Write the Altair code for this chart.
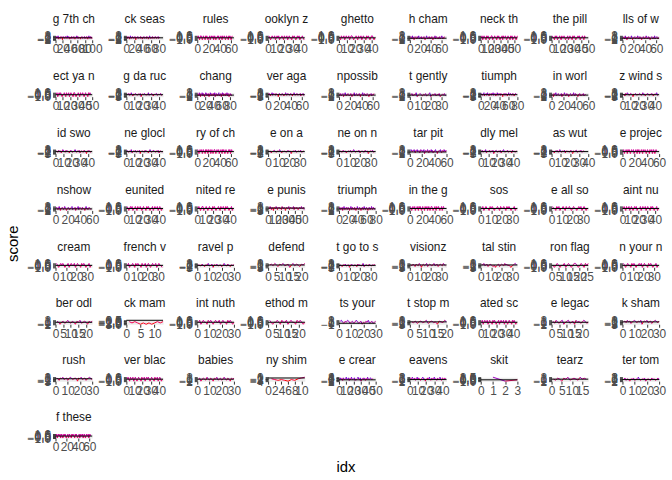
import altair as alt
import pandas as pd

titles = ["g 7th ch", "ck seas", "rules", "ooklyn z", "ghetto", "h cham", "neck th", "the pill", "lls of w",
          "ect ya n", "g da ruc", "chang", "ver aga", "npossib", "t gently", "tiumph", "in worl", "z wind s",
          "id swo", "ne glocl", "ry of ch", "e on a", "ne on n", "tar pit", "dly mel", "as wut", "e projec",
          "nshow", "eunited", "nited re", "e punis", "triumph", "in the g", "sos", "e all so", "aint nu",
          "cream", "french v", "ravel p", "defend", "t go to s", "visionz", "tal stin", "ron flag", "n your n",
          "ber odl", "ck mam", "int nuth", "ethod m", "ts your", "t stop m", "ated sc", "e legac", "k sham",
          "rush", "ver blac", "babies", "ny shim", "e crear", "eavens", "skit", "tearz", "ter tom",
          "f these"]

s01 = [1,0,2,-1,0,1,3,0,-2,1,0,1,0,-1,2,1,0,0,-3,1,2,0,1,-1,0,0,2,1,-1,0,1,3,0,-1,0,2,0,1,-2,0,0,1,-1,2,0,0,1,-1,0,2,1,0,-2,0,1,1,0,3,-1,0,2,0,-1,1,0,0,1,-2,1,0,0,2,1,-1,0,1,0,0,2,-1,1,0,-1,0,2,1,0,-2,1,0,3,0,1,-1,0,2,0,1,-1,0]
s02 = [0,1,-1,2,0,1,0,-2,1,3,0,-1,1,0,2,0,1,-1,0,0,2,1,-3,0,1,0,1,2,-1,0,0,1,0,-1,2,1,0,1,-2,0,1,0,2,-1,0,1,0,0,-1,2,0,1,1,-2,0,0,3,1,-1,0,1,0,-1,2,0,1,0,-1,1,0,2,0,1,-1,0,0,1,2,-1,0,1,0]
s03 = [0,1,0,-1,0,1,1,0,-1,0,1,0,0,-1,1,0,1,0,-1,0,0,1,-1,0,1,0,0,1,-1,0,1,0,-1,0,0,1,0,1,-1,0,0,1,0,-1,1,0,0,1,0,-1,0,1,0,0,-1,1,0,1,0,-1,0,1]
s04 = [1,0,-1,0,1,0,0,1,-1,0,1,0,1,-1,0,0,1,0,-1,1,0,0,1,-1,0,1,0,0,-1,1,0,1,0,-1,0,1,0,1,-1,0,0,1,0,-1]
s05 = [0,-1,1,0,0,1,-1,0,1,0,0,1,-1,0,1,1,0,-1,0,0,1,0,-1,1,0,0,1,-1,0,1,0,0,-1,1,0,1,0,-1,0,1,1,0,-1,0]
s06 = [1,2,0,-1,3,0,1,-2,0,2,1,0,-1,2,0,1,3,-1,0,1,0,2,-1,0,1,0,2,1,-2,0,1,3,0,-1,1,0,2,0,-1,1,0,2,1,-2,0,1,0,3,-1,0,2,1,0,-1,1,0,2,-1,0,1,3,0,-1,1,0,2]
s07 = [0,1,-1,0,1,0,0,-1,1,0,1,0,-1,0,0,1,1,-1,0,0,1,0,0,-1,1,0,1,0,-1,0,0,1,-1,1,0,0,1,0,-1,0,1,0,0,-1,1,0,1,-1,0,0,1,0,-1,0,1]
s08 = [1,0,0,-1,1,0,1,-1,0,0,1,0,-1,1,0,0,1,0,-1,0,0,1,-1,0,1,0,0,-1,1,0,1,0,-1,0,0,1,0,1,-1,0,0,1,0,-1,1,0]
s09 = [2,0,1,-1,3,0,1,-2,1,0,2,1,0,-1,1,3,0,-2,1,0,1,2,-1,0,1,0,3,1,-1,0,2,0,1,-2,0,1,2,0,-1,1,0,3,1,-1,0,2,0,1,-2,0,1,2,0,-1,1,0,3,-1,0,1,2,0,-1,1]
s10 = [0,1,-1,0,1,0,1,0,-1,0,0,1,0,-1,1,0,0,1,-1,0,1,0,0,-1,1,1,0,-1,0,0,1,0,-1,1,0,0,1,0,-1,0,1,0,0,-1,1,0,1,0]
s11 = [1,0,2,-1,0,3,0,-2,1,0,2,1,-1,0,1,0,2,-3,0,1,0,2,1,-1,0,0,3,-1,1,0,2,0,-2,1,0,1,2,-1,0,1,0,2,-1,0]
s12 = [2,1,0,-1,3,0,2,-2,1,0,1,3,0,-1,2,0,1,-2,0,1,3,0,2,-1,1,0,2,0,-2,1,0,3,1,-1,0,2,1,0,-1,2,1,0,3,-2,0,1,2,0,-1,1,0,2,3,-1,0,1,0,2,-2,1,0,3,1,-1,2,0,1,0,-1,2,1,0,3,-1,0,2,1,-2,0,1,2,0,1,-1]
s13 = [0,2,1,-2,0,1,3,-1,0,2,1,0,-1,2,0,1,0,-3,1,2,0,1,-1,0,2,1,0,-2,1,0,3,1,-1,0,2,0,1,-1,0,2,1,0,-2,1,0,3,0,-1,1,0,2,1,-1,0,1,0,2,-2,1,0,1,2,-1,0]
s14 = [1,0,2,-1,0,1,2,-2,0,1,3,0,-1,1,0,2,1,-1,0,0,2,1,-2,0,1,0,3,-1,0,1,2,0,-1,1,0,2,0,-2,1,0,1,3,-1,0,2,0,1,-1,0,2,1,0,-2,1,0,1,2,-1,0,1,0,2]
s15 = [0,2,-1,1,0,3,-2,0,1,2,0,-1,1,0,2,-1,0,1,3,-2,0,1,0,2,-1,1,0,2,-2,0,1,0,2,-1]
s16 = [2,0,1,-1,0,2,3,-2,1,0,1,2,-1,0,3,0,1,-2,0,2,1,0,-1,2,0,1,3,-1,0,1,2,0,-2,1,0,3,1,-1,0,2,0,1,-1,2,0,1,0,-3,1,0,2,1,-1,0,2,0,1,-2,1,0,3,0,-1,1,2,0,1,-1,0,2,1,0,-2,1,0,2,1,0]
s17 = [1,0,-2,2,0,1,3,-1,0,1,2,0,-1,0,1,2,-2,1,0,0,3,1,-1,0,2,0,1,-2,0,1,2,0,-1,1,0,3,0,-1,2,0,1,0,-2,1,0,2,1,-1,0,1,0,2,-1,0,1,0]
s18 = [0,1,-2,2,0,3,1,-1,0,2,1,0,-3,1,0,2,0,-1,1,0,2,1,-1,0,3,0,1,-2,0,1,2,0,-1,1,0,2,0,-2,1,0,1,3,-1,0]
s19 = [1,0,-1,2,0,1,-2,0,3,1,0,-1,2,0,1,0,-2,1,2,0,-1,0,1,3,0,-1,1,0,2,-2,0,1,0,-1,2,1,0,-3,1,0,2,0,-1,1]
s20 = [2,0,-1,1,0,3,-2,0,1,0,2,-1,0,1,0,2,-3,1,0,1,0,-1,2,0,1,0,-2,1,3,0,-1,0,2,1,0,-1,1,0,2,-2,0,1,0,-1]
s21 = [1,0,-1,0,1,0,0,1,-1,0,1,0,0,-1,1,0,1,0,-1,1,0,0,1,-1,0,1,0,-1,0,1,1,0,-1,0,1,0,0,1,-1,0,0,1,0,-1,1,0,1,0,-1,0,1,0,0,-1,0,1,0,1,-1,0,1,0]
s22 = [0,1,-2,0,1,2,0,-1,1,0,3,0,-2,1,0,1,-1,0,2,0,1,-3,0,1,0,2,-1,0,1,0,2,-1,0,1]
s23 = [1,0,-1,2,0,1,-2,0,1,0,2,-1,0,3,0,-1,1,0,2,-2,0,1,0,-1,2,0,1,-3,0,1,0,2,-1,0]
s24 = [2,3,1,0,2,1,3,0,-1,2,1,3,0,1,2,-1,0,3,1,2,0,1,3,-2,0,2,1,0,3,1,-1,2,0,1,3,0,2,-1,1,0,2,3,0,1,-2,1,0,2,1,3,0,-1,2,1,0,3,1,0,2,1]
s25 = [0,2,-1,1,0,3,-2,0,1,0,2,-1,1,0,2,-3,0,1,2,0,-1,1,0,2,-2,0,1,3,0,-1,1,0,2,-1,0,1,0,-2,2,0,1,-1,0,1]
s26 = [1,0,-2,1,0,2,-1,0,3,0,-1,1,0,2,-2,1,0,1,-1,0,2,0,-3,1,0,1,2,-1,0,1,0,2,-1,0,1,0]
s27 = [0,1,-1,0,0,1,0,-1,1,0,1,0,-1,0,1,0,0,1,-1,0,0,1,0,-1,1,0,1,-1,0,0,1,0,-1,1,0,0,1,0,-1,0,1,0,0,-1,1,0,0,1,-1,0,1,0,-1,0,1,0]
s28 = [1,2,0,-1,1,3,0,-2,1,0,2,1,-1,0,3,1,0,-2,0,1,2,0,-1,1,0,2,3,-1,0,1,0,2,-2,1,0,1,3,-1,0,2,1,0,-1,2,0,1,0,-2,1,3,0,1,-1,0,2,1,0,-1]
s29 = [1,0,-1,0,1,0,1,-1,0,0,1,0,-1,1,0,0,1,0,-1,0,1,0,0,-1,1,0,1,0,-1,0,0,1,-1,0,1,0,0,1,-1,0,1,0,-1,0]
s30 = [0,1,0,-1,0,1,1,-1,0,0,1,0,-1,0,1,0,0,-1,1,0,1,0,-1,0,0,1,0,-1,1,0,0,1,0,-1,1,0,1,0,-1,0,0,1,-1,0]
s31 = [0,-1,2,0,-2,1,0,-3,1,0,-1,2,0,-2,1,0,1,-1,0,-2,2,0,-1,1,0,-3,0,1,-1,0,2,-2,0,1,0,-1,0,2,-2,1,0,-1,1,0,-2,0,1,-1,0,2,-1,0,1,-2]
s32 = [1,2,0,-1,1,0,2,-2,0,1,3,0,-1,1,0,2,1,-1,0,2,0,1,-2,0,1,3,0,-1,2,0,1,0,-1,2,1,0,-2,1,0,3,1,0,-1,0,2,1,0,-2,1,0,2,0,-1,1,3,0,1,-1,0,2,1,0,-2,0,1,2,0,-1,1,0,3,1,-1,0,2,0,1,-1]
s33 = [1,0,-1,0,1,0,0,1,-1,0,0,1,0,-1,1,0,1,0,-1,0,1,0,0,-1,1,0,0,1,-1,0,1,0,-1,0,1,1,0,-1,0,0,1,0,-1,1,0,0,1,0,-1,0,0,1,-1,0,1,0]
s34 = [0,1,-1,0,1,0,0,-1,1,0,1,0,-1,0,0,1,0,-1,1,0,0,1,0,-1,1,0,1,0,-1,0,0,1,-1,0]
s35 = [1,0,0,-1,1,0,1,-1,0,0,1,0,-1,1,0,0,1,0,-1,0,1,0,0,-1,0,1,0,1,-1,0,1,0,-1,0]
s36 = [0,1,0,-1,1,0,0,1,-1,0,1,0,-1,0,1,0,1,-1,0,0,0,1,-1,0,1,0,0,1,-1,0,1,0,0,-1,1,0,1,0,-1,0,0,1,-1,0]
s37 = [1,0,-1,0,1,0,1,0,-1,0,0,1,-1,0,1,0,0,1,-1,0,1,0,0,-1,1,0,1,0,-1,0,0,1,-1,0]
s38 = [0,1,-1,0,0,1,0,-1,1,0,1,0,0,-1,1,0,0,1,-1,0,1,0,-1,0,1,0,0,1,-1,0,1,0,0,-1]
s39 = [1,0,-1,2,0,-2,1,0,3,-1,0,2,-3,1,0,2,-1,0,1,-2,0,3,0,-1,2,0,-2,1,0,1]
s40 = [0,1,-1,2,0,-2,1,0,2,-1,0,1,-3,0,2,-1,1,0,-2,1,0,2]
s41 = [1,0,-2,1,0,2,-1,0,1,-3,0,2,0,-1,1,0,-2,2,0,1,-1,0,3,-2,0,1,0,-1,2,0,-1,1,0,2]
s42 = [0,-1,1,0,-2,1,0,-1,2,0,-3,0,1,-1,0,2,-2,0,1,0,-1,0,2,-1,0,1,-2,0,1,0,-1,2,0,-1]
s43 = [1,0,2,-1,0,1,-2,0,1,0,-1,-2,0,-3,-1,0,1,-2,0,1,0,-1,2,0,1,-1,0,-2,-3,-1,0,1,2,0]
s44 = [0,-1,0,1,0,-1,0,0,1,-1,0,1,0,-1,0,1,1,0,-1,0,1,0,-1,1,0,1]
s45 = [1,0,-1,0,1,0,0,-1,1,0,1,0,-1,0,0,1,0,1,-1,0,1,0,0,-1,1,0,1,0,-1,0,0,1,-1,0]
s46 = [1,0,-2,0,1,-1,0,2,0,-1,1,0,-2,1,0,2,-1,0,1,0,-2,1,0,1]
s47 = [-1,-2,-1,-2,-3,-2,-3,-2,-3,-2,-1,-2,-1]
s48 = [0,1,-1,0,1,0,0,-1,1,0,1,0,-1,0,1,0,0,1,-1,0,1,0,0,-1,1,0,1,0,-1,0]
s49 = [1,0,-1,0,0,1,0,-1,1,0,0,1,-1,0,1,0,0,-1,1,0,1,0,-1,0]
s50 = [2,3,1,0,2,1,3,2,0,1,2,0,1,3,2,0,1,2,-1,1,0,2,1,3,0,1,2,0,1,2]
s51 = [0,-1,1,-2,0,1,-1,0,2,-2,0,1,-1,0,-3,1,0,-1,2,0]
s52 = [0,1,-1,0,1,0,0,1,-1,0,1,0,0,-1,1,0,1,0,-1,0,0,1,-1,0,1,0,0,1,-1,0,1,0,-1,0,1,0,0,-1,1,0,1,0,-1,0]
s53 = [1,-1,2,0,-1,1,2,-2,0,1,2,-1,0,1,-2,2,0,1,-1,0,2,1,-1,0]
s54 = [0,1,-1,2,0,1,-2,0,1,2,0,-1,1,0,2,-3,0,1,0,2,-1,0,1,-2,0,1,2,0,-1,1]
s55 = [1,0,-2,1,0,2,-1,0,1,-2,0,2,1,-1,0,1,0,-3,1,0,2,-1,0,1,-2,0,1,2,0,-1]
s56 = [0,1,0,-1,1,0,0,1,-1,0,1,0,-1,0,1,0,0,-1,1,0,0,1,-1,0,1,0,1,0,-1,0,1,0,0,-1,1,0,0,1,-1,0,1,0,-1,0]
s57 = [0,1,-2,0,1,0,-1,2,0,-1,1,0,-2,1,0,2,-1,0,1,-1,0,2,0,-1,1,0,-2,1,0,1]
s58 = [-1,-2,-3,-2,-3,-4,-2,-3,-1,0,1]
s59 = [1,3,0,2,-1,3,1,0,2,4,0,1,3,-1,2,0,4,1,0,2,3,-1,1,0,2,4,1,0,3,-2,1,2,0,3,1,-1,2,0,4,1,0,2,3,1,0,2]
s60 = [2,0,3,1,0,2,-1,1,3,0,2,1,-1,0,2,3,0,1,-2,1,0,2,1,3,0,-1,2,0,1,3,0,1,-1,2,0,1,3,0,-1,2,1,0,2,1]
s61 = [2,-1,0]
s62 = [0,-1,1,0,-2,1,0,2,-1,0,1,0,-1,2,0,1,0]
s63 = [0,2,-1,1,0,-2,1,0,2,-1,0,1,3,0,-1,1,0,2,-2,0,1,0,-1,2,0,1,-1,0,2,0]
s64 = [0,1,-1,0,1,0,0,1,-1,0,1,0,-1,0,1,0,1,0,-1,0,0,1,-1,0,1,0,0,-1,1,0,1,0,0,-1,1,0,1,0,-1,0,0,1,-1,0,1,0,0,1,-1,0,1,0,-1,0,1,0,0,1,-1,0,1,0]

series = [s01, s02, s03, s04, s05, s06, s07, s08, s09, s10, s11, s12, s13, s14, s15, s16,
          s17, s18, s19, s20, s21, s22, s23, s24, s25, s26, s27, s28, s29, s30, s31, s32,
          s33, s34, s35, s36, s37, s38, s39, s40, s41, s42, s43, s44, s45, s46, s47, s48,
          s49, s50, s51, s52, s53, s54, s55, s56, s57, s58, s59, s60, s61, s62, s63, s64]

rows = []
for t, s in zip(titles, series):
    for i, v in enumerate(s, start=1):
        rows.append({"song": t, "idx": i, "score": v})
df = pd.DataFrame(rows)

FONT = "Liberation Sans"

axis_common = dict(grid=False, domain=False, tickColor="#333333", tickSize=3,
                   labelFontSize=12, labelColor="#4D4D4D", labelFont=FONT,
                   labelOverlap=False, title=None)

segs = alt.Chart().transform_window(
    nidx="lead(idx)", nscore="lead(score)", groupby=["song"],
    sort=[alt.SortField("idx")]
).transform_filter("datum.nidx != null").mark_rule(strokeWidth=1).encode(
    x=alt.X("idx:Q", axis=alt.Axis(labelPadding=1, labelFlush=False, tickCount=4, **axis_common)),
    x2="nidx:Q",
    y=alt.Y("score:Q", scale=alt.Scale(zero=False),
            axis=alt.Axis(labelPadding=2, tickCount=5, **axis_common)),
    y2="nscore:Q",
    color=alt.Color("score:Q",
                    scale=alt.Scale(domain=[-3, 0, 3], range=["#FF0000", "#E8008A", "#6A00E0"],
                                    interpolate="lab", clamp=True),
                    legend=None),
)

zero = alt.Chart().transform_filter("datum.idx == 1").mark_rule(
    color="black", strokeWidth=1).encode(y=alt.datum(0))

layer = alt.layer(segs, zero, data=df).properties(width=37, height=4)

chart = layer.facet(
    facet=alt.Facet("song:N", sort=titles, title="idx",
                    header=alt.Header(labelOrient="top", titleOrient="bottom",
                                      labelFontSize=12, labelFont=FONT, labelColor="#1A1A1A",
                                      labelPadding=4, titleFontSize=15, titleFont=FONT,
                                      titleColor="black", titleFontWeight="normal",
                                      titlePadding=22)),
    columns=9,
    spacing={"row": 53.4, "column": 34.5},
    bounds="flush",
).resolve_scale(x="independent", y="independent").properties(
    title=alt.TitleParams("score", orient="left", anchor="middle", fontSize=15,
                          font=FONT, fontWeight="normal", color="black", offset=6),
    padding={"left": 5, "top": 10, "right": 5, "bottom": 5},
).configure_view(fill="#EBEBEB", stroke="transparent")

chart.save("out.html", embed_options={"renderer": "svg", "actions": False})
